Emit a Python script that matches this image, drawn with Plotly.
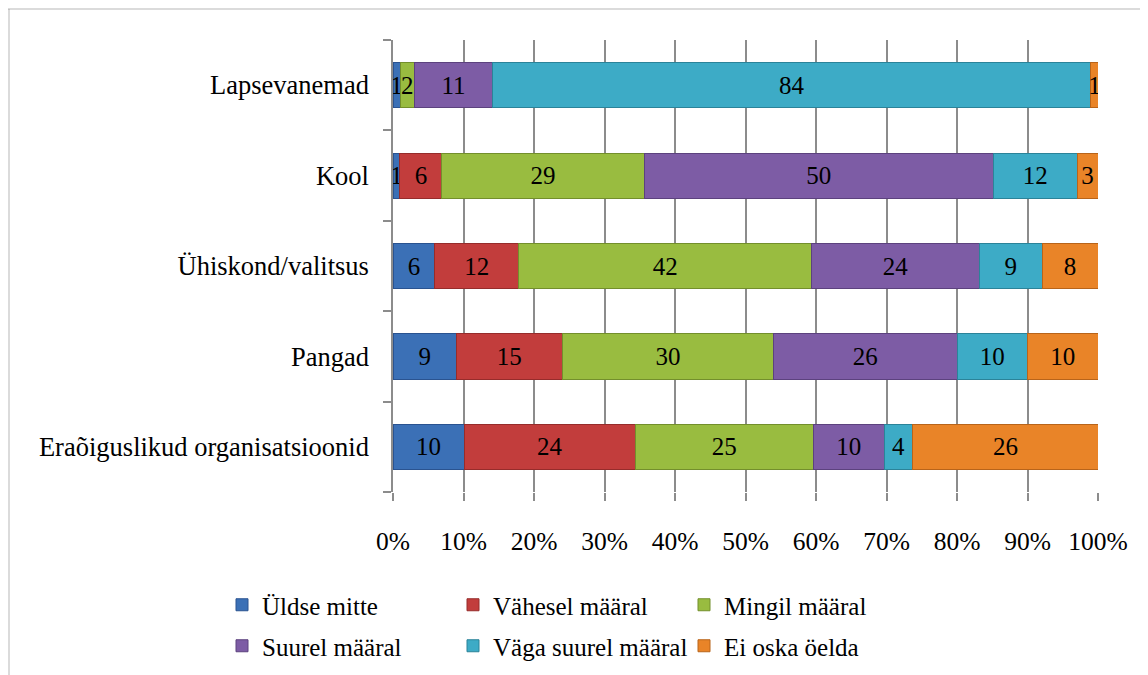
import plotly.graph_objects as go

categories = ["Eraõiguslikud organisatsioonid", "Pangad", "Ühiskond/valitsus", "Kool", "Lapsevanemad"]
series_names = ["Üldse mitte", "Vähesel määral", "Mingil määral",
                "Suurel määral", "Väga suurel määral", "Ei oska öelda"]
uldse = [10, 9, 6, 1, 1]
vahesel = [24, 15, 12, 6, 0]
mingil = [25, 30, 42, 29, 2]
suurel = [10, 26, 24, 50, 11]
vaga_suurel = [4, 10, 9, 12, 84]
ei_oska = [26, 10, 8, 3, 1]
x_ticks = [0, 10, 20, 30, 40, 50, 60, 70, 80, 90, 100]

COLORS = ["#3B70B6", "#C23D3C", "#99BC40", "#7D5CA5", "#3DABC6", "#E98428"]
EDGES = ["#2A5390", "#962C2B", "#738F2C", "#5C427E", "#2B8399", "#B8641A"]
FONT = "Liberation Serif"
FS = 25

# page body has an 8px margin, so work in reference pixels minus 8
OFF = 8
W, H = 1148 - OFF, 675 - OFF
L, R, T, B = 393 - OFF, 50, 40 - OFF, 183
pw, ph = W - L - R, H - T - B


def px_x(p):
    return (p - OFF - L) / pw


def px_y(p):
    return (H - B - (p - OFF)) / ph


def cont_x(p):
    return (p - OFF) / W


def cont_y(p):
    return 1 - (p - OFF) / H


fig = go.Figure()
for i, (name, vals) in enumerate(zip(series_names,
                                     [uldse, vahesel, mingil, suurel, vaga_suurel, ei_oska])):
    fig.add_bar(
        y=categories, x=vals, name=name, orientation="h",
        marker=dict(color=COLORS[i], line=dict(color=EDGES[i], width=1)),
        text=[str(v) if v else "" for v in vals], textposition="inside",
        insidetextanchor="middle", textangle=0,
        textfont=dict(color="black", family=FONT, size=FS),
        legend="legend" if i < 3 else "legend2")

legend_common = dict(orientation="h", xanchor="left", yanchor="middle",
                     xref="container", yref="container",
                     font=dict(family=FONT, size=25, color="black"),
                     entrywidth=186, entrywidthmode="pixels", itemwidth=30,
                     bgcolor="rgba(0,0,0,0)", traceorder="normal")

fig.update_layout(
    template="simple_white",
    width=W, height=H,
    margin=dict(l=L, r=R, t=T, b=B, autoexpand=False),
    paper_bgcolor="white", plot_bgcolor="white",
    font=dict(family=FONT, size=FS, color="black"),
    barmode="stack", barnorm="percent", bargap=0.5,
    uniformtext=dict(minsize=FS, mode="show"),
    showlegend=True,
    legend=dict(x=cont_x(222), y=cont_y(605), **legend_common),
    legend2=dict(x=cont_x(222), y=cont_y(646), **legend_common),
    shapes=[
        dict(type="line", xref="paper", yref="paper", x0=px_x(8), x1=px_x(1148),
             y0=px_y(9), y1=px_y(9), line=dict(color="#8a8a8a", width=2)),
        dict(type="line", xref="paper", yref="paper", x0=px_x(9), x1=px_x(9),
             y0=px_y(9), y1=px_y(675), line=dict(color="#8a8a8a", width=2)),
    ],
)
fig.update_xaxes(range=[0, 100], tickvals=x_ticks, ticktext=[f"{v}%" for v in x_ticks],
                 showgrid=True, gridcolor="#8c8c8c", gridwidth=1.5,
                 ticks="outside", ticklen=8, tickcolor="#8c8c8c", tickwidth=1.5,
                 showline=False, zeroline=False, ticklabelstandoff=18,
                 tickfont=dict(family=FONT, size=25.5, color="black"))
fig.update_yaxes(type="category", tickson="boundaries", ticks="outside", ticklen=8,
                 tickcolor="#8c8c8c", tickwidth=1.5, showline=True, linecolor="#8c8c8c",
                 linewidth=1.5, showgrid=False, ticklabelstandoff=17,
                 tickfont=dict(family=FONT, size=26.5, color="black"))

fig.write_html("out.html")
